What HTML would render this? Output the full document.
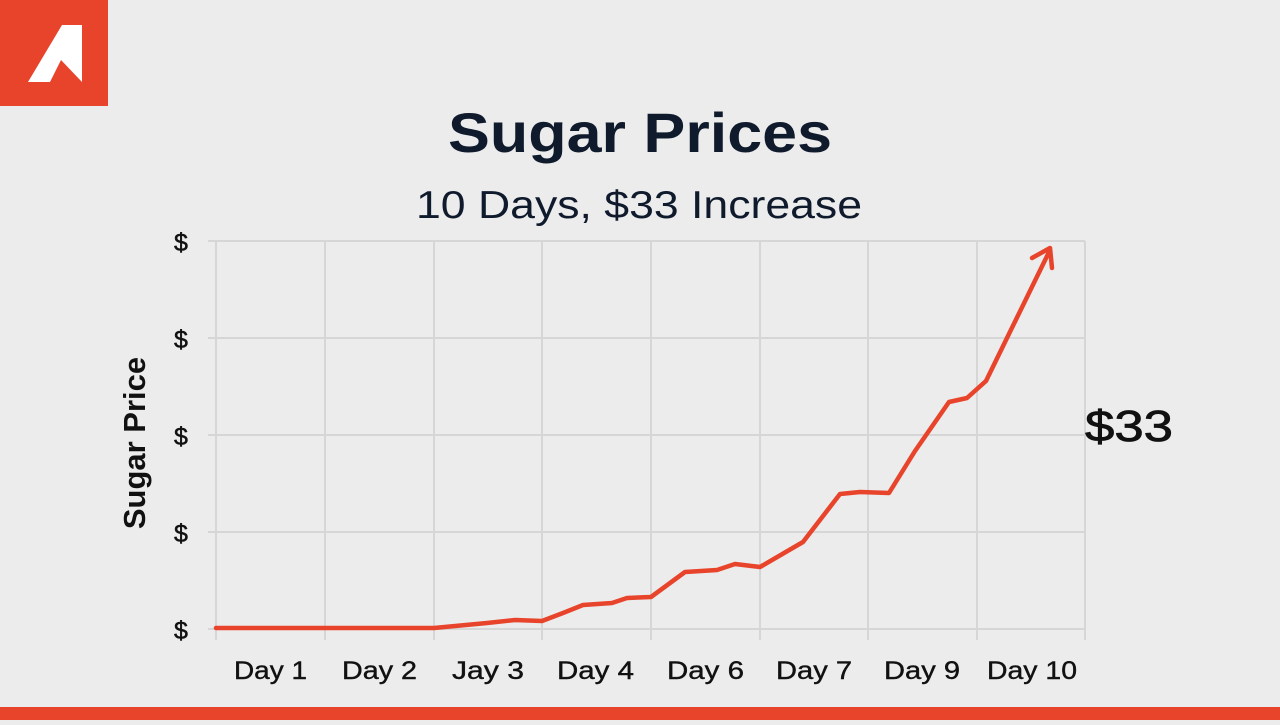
<!DOCTYPE html>
<html><head><meta charset="utf-8"><style>
body{margin:0;width:1280px;height:720px;background:#ececec;overflow:hidden;font-family:"Liberation Sans",sans-serif;}
</style></head><body>
<svg width="1280" height="720" viewBox="0 0 1280 720" xmlns="http://www.w3.org/2000/svg">
<rect width="1280" height="720" fill="#ececec"/>
<rect x="0" y="0" width="108" height="106" fill="#e8442b"/>
<polygon points="28,82 62,25 82,25 82,82 61,60 50,82" fill="#fff"/>
<rect x="0" y="707" width="1280" height="13" fill="#e8442b"/>
<text x="448" y="152" font-size="56" font-weight="bold" fill="#0f1a2c" textLength="384" lengthAdjust="spacingAndGlyphs">Sugar Prices</text>
<text x="416" y="218" font-size="39" fill="#0f1a2c" textLength="446" lengthAdjust="spacingAndGlyphs">10 Days, $33 Increase</text>
<g stroke="#d6d6d6" stroke-width="2">
<line x1="208" y1="241" x2="1085" y2="241"/><line x1="208" y1="338" x2="1085" y2="338"/>
<line x1="208" y1="435" x2="1085" y2="435"/><line x1="208" y1="532" x2="1085" y2="532"/>
<line x1="208" y1="629" x2="1085" y2="629"/>
<line x1="216" y1="241" x2="216" y2="640"/><line x1="325" y1="241" x2="325" y2="640"/>
<line x1="434" y1="241" x2="434" y2="640"/><line x1="542" y1="241" x2="542" y2="640"/>
<line x1="651" y1="241" x2="651" y2="640"/><line x1="760" y1="241" x2="760" y2="640"/>
<line x1="868" y1="241" x2="868" y2="640"/><line x1="977" y1="241" x2="977" y2="640"/>
<line x1="1085" y1="241" x2="1085" y2="640"/>
</g>
<g font-size="25" fill="#111" text-anchor="middle" stroke="#111" stroke-width="0.5">
<text x="181" y="251">$</text><text x="181" y="348">$</text><text x="181" y="445">$</text><text x="181" y="542">$</text><text x="181" y="639">$</text>
</g>
<g font-size="25" fill="#111" stroke="#111" stroke-width="0.4">
<text x="234" y="679" textLength="73" lengthAdjust="spacingAndGlyphs">Day 1</text>
<text x="342" y="679" textLength="75" lengthAdjust="spacingAndGlyphs">Day 2</text>
<text x="452" y="679" textLength="72" lengthAdjust="spacingAndGlyphs">Jay 3</text>
<text x="557" y="679" textLength="77" lengthAdjust="spacingAndGlyphs">Day 4</text>
<text x="667" y="679" textLength="77" lengthAdjust="spacingAndGlyphs">Day 6</text>
<text x="776" y="679" textLength="76" lengthAdjust="spacingAndGlyphs">Day 7</text>
<text x="884" y="679" textLength="76" lengthAdjust="spacingAndGlyphs">Day 9</text>
<text x="987" y="679" textLength="90" lengthAdjust="spacingAndGlyphs">Day 10</text>
</g>
<text transform="translate(145,443) rotate(-90)" text-anchor="middle" font-size="31" font-weight="bold" fill="#111">Sugar Price</text>
<text x="1085" y="441" font-size="44" fill="#111" stroke="#111" stroke-width="0.8" textLength="88" lengthAdjust="spacingAndGlyphs">$33</text>
<polyline fill="none" stroke="#e8442b" stroke-width="4.5" stroke-linejoin="round" stroke-linecap="round" points="216,628 325,628 434,628 487,623 515,620 542,621 563,613 583,605 612,603 627,598 651,597 685,572 717,570 735,564 760,567 803,542 840,494 860,492 889,493 915,451 949,402 967,398 986,381 1050,250"/>
<polyline fill="none" stroke="#e8442b" stroke-width="4.5" stroke-linecap="round" stroke-linejoin="round" points="1032,258 1050,248 1052,268"/>
</svg>
</body></html>
